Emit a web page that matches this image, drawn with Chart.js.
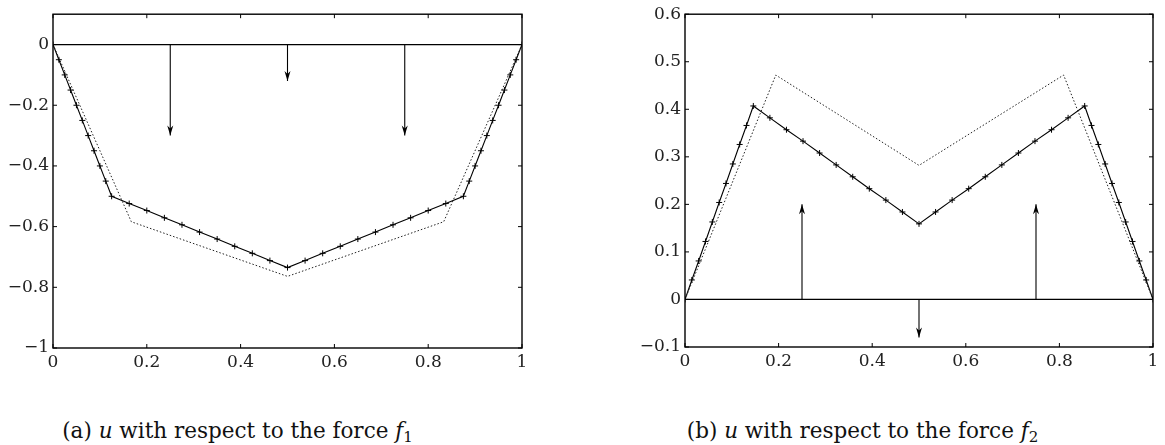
<!DOCTYPE html>
<html>
<head>
<meta charset="utf-8">
<script src="https://cdn.jsdelivr.net/npm/chart.js@4/dist/chart.umd.min.js"></script>
<style>
  body { margin: 0; background: #fff; width: 1165px; height: 445px; position: relative; overflow: hidden; }
  canvas { position: absolute; top: 0; }
  #chartA { left: 0; }
  #chartB { left: 580px; }
  .caption { position: absolute; top: 418px; line-height: 26px; font-family: "DejaVu Serif", serif; font-size: 21.5px; color: #111; text-align: center; white-space: nowrap; }
  .caption sub { font-size: 15px; vertical-align: -4px; line-height: 0; }
</style>
</head>
<body>
<canvas id="chartA" width="580" height="380"></canvas>
<canvas id="chartB" width="585" height="380"></canvas>
<div class="caption" style="left:0;width:475px">(a) <i>u</i> with respect to the force <i>f</i><sub>1</sub></div>
<div class="caption" style="left:580px;width:565px">(b) <i>u</i> with respect to the force <i>f</i><sub>2</sub></div>
<script>
// ---- data: plot (a), force f1 ----
const xTicks = [0, 0.2, 0.4, 0.6, 0.8, 1];
const aYTicks = [-1, -0.8, -0.6, -0.4, -0.2, 0];
const aNodesX = [0, 0.0125, 0.025, 0.0375, 0.05, 0.0625, 0.075, 0.0875, 0.1, 0.1125, 0.125,
  0.1625, 0.2, 0.2375, 0.275, 0.3125, 0.35, 0.3875, 0.425, 0.4625, 0.5,
  0.5375, 0.575, 0.6125, 0.65, 0.6875, 0.725, 0.7625, 0.8, 0.8375, 0.875,
  0.8875, 0.9, 0.9125, 0.925, 0.9375, 0.95, 0.9625, 0.975, 0.9875, 1];
const aSolid = [0, -0.05, -0.10, -0.15, -0.20, -0.25, -0.30, -0.35, -0.40, -0.45, -0.50,
  -0.524, -0.547, -0.571, -0.594, -0.618, -0.641, -0.665, -0.688, -0.712, -0.735,
  -0.712, -0.688, -0.665, -0.641, -0.618, -0.594, -0.571, -0.547, -0.524, -0.50,
  -0.45, -0.40, -0.35, -0.30, -0.25, -0.20, -0.15, -0.10, -0.05, 0];
const aDotX = [0, 0.167, 0.5, 0.833, 1];
const aDotY = [0, -0.584, -0.764, -0.584, 0];
const aArrowX = [0.25, 0.5, 0.75];
const aArrowY = [-0.30, -0.12, -0.30];

// ---- data: plot (b), force f2 ----
const bYTicks = [-0.1, 0, 0.1, 0.2, 0.3, 0.4, 0.5, 0.6];
const bNodesX = [0, 0.0146, 0.0292, 0.0438, 0.0584, 0.073, 0.0876, 0.1022, 0.1168, 0.1314, 0.146,
  0.1814, 0.2168, 0.2522, 0.2876, 0.323, 0.3584, 0.3938, 0.4292, 0.4646, 0.5,
  0.5354, 0.5708, 0.6062, 0.6416, 0.677, 0.7124, 0.7478, 0.7832, 0.8186, 0.854,
  0.8686, 0.8832, 0.8978, 0.9124, 0.927, 0.9416, 0.9562, 0.9708, 0.9854, 1];
const bSolid = [0, 0.041, 0.081, 0.122, 0.163, 0.204, 0.244, 0.285, 0.326, 0.366, 0.407,
  0.382, 0.357, 0.333, 0.308, 0.283, 0.258, 0.233, 0.209, 0.184, 0.159,
  0.184, 0.209, 0.233, 0.258, 0.283, 0.308, 0.333, 0.357, 0.382, 0.407,
  0.366, 0.326, 0.285, 0.244, 0.204, 0.163, 0.122, 0.081, 0.041, 0];
const bDotX = [0, 0.194, 0.5, 0.809, 1];
const bDotY = [0, 0.472, 0.282, 0.472, 0];
const bArrowX = [0.25, 0.5, 0.75];
const bArrowY = [0.2, -0.08, 0.2];

const pts = (xs, ys) => xs.map((x, i) => ({ x: x, y: ys[i] }));
const fmt = (v) => {
  const s = String(Math.round(v * 10) / 10);
  return s.replace("-", "\u2212");
};

// frame, inward ticks and arrow heads
const decorPlugin = {
  id: "decor",
  afterDatasetsDraw(chart) {
    const ctx = chart.ctx;
    const a = chart.chartArea;
    const xs = chart.scales.x, ys = chart.scales.y;
    ctx.save();
    ctx.fillStyle = "#000";
    ctx.strokeStyle = "#000";
    ctx.lineWidth = 1;
    chart.data.datasets.forEach((ds, i) => {
      if (!ds.arrow) return;
      const m = chart.getDatasetMeta(i).data;
      const p0 = m[0], p1 = m[1];
      const dir = p1.y > p0.y ? 1 : -1;
      ctx.beginPath();
      ctx.moveTo(p1.x, p1.y);
      ctx.lineTo(p1.x - 3, p1.y - dir * 10);
      ctx.lineTo(p1.x, p1.y - dir * 7);
      ctx.lineTo(p1.x + 3, p1.y - dir * 10);
      ctx.closePath();
      ctx.fill();
    });
    ctx.lineWidth = 1.4;
    ctx.strokeRect(a.left, a.top, a.right - a.left, a.bottom - a.top);
    ctx.lineWidth = 1;
    ctx.beginPath();
    xs.ticks.forEach((t) => {
      const px = xs.getPixelForValue(t.value);
      ctx.moveTo(px, a.bottom); ctx.lineTo(px, a.bottom - 4);
      ctx.moveTo(px, a.top); ctx.lineTo(px, a.top + 4);
    });
    ys.ticks.forEach((t) => {
      const py = ys.getPixelForValue(t.value);
      ctx.moveTo(a.left, py); ctx.lineTo(a.left + 4, py);
      ctx.moveTo(a.right, py); ctx.lineTo(a.right - 4, py);
    });
    ctx.stroke();
    ctx.restore();
  },
};

function makeChart(el, cfg) {
  const datasets = [
    { data: [{ x: 0, y: 0 }, { x: 1, y: 0 }], borderColor: "#000", borderWidth: 1.2, pointRadius: 0, showLine: true },
    { data: pts(cfg.dotX, cfg.dotY), borderColor: "#222", borderWidth: 1, borderDash: [1.5, 2], pointRadius: 0, showLine: true },
    { data: pts(cfg.nodesX, cfg.solid), borderColor: "#000", borderWidth: 1.1, showLine: true,
      pointStyle: "cross", pointRadius: 3, pointBorderWidth: 1, pointBorderColor: "#000" },
  ];
  cfg.arrowX.forEach((x, i) => {
    datasets.push({ data: [{ x: x, y: 0 }, { x: x, y: cfg.arrowY[i] }], arrow: true,
      borderColor: "#000", borderWidth: 1.1, pointRadius: 0, showLine: true });
  });
  const tickFont = { family: "DejaVu Serif", size: 17 };
  return new Chart(el, {
    type: "scatter",
    data: { datasets: datasets },
    plugins: [decorPlugin],
    options: {
      responsive: false,
      animation: false,
      devicePixelRatio: 1,
      layout: { padding: { left: 0, bottom: 0, top: cfg.top, right: cfg.right } },
      plugins: { legend: { display: false }, tooltip: { enabled: false } },
      scales: {
        x: {
          type: "linear", min: 0, max: 1,
          grid: { display: false, drawTicks: false }, border: { display: false },
          afterBuildTicks: (s) => { s.ticks = xTicks.map((v) => ({ value: v })); },
          afterFit: (s) => { s.height = cfg.xHeight; },
          ticks: { font: tickFont, color: "#222", padding: 4, maxRotation: 0, callback: fmt },
        },
        y: {
          type: "linear", min: cfg.yMin, max: cfg.yMax,
          grid: { display: false, drawTicks: false }, border: { display: false },
          afterBuildTicks: (s) => { s.ticks = cfg.yTicks.map((v) => ({ value: v })); },
          afterFit: (s) => { s.width = cfg.yWidth; },
          ticks: { font: tickFont, color: "#222", padding: 4, callback: fmt },
        },
      },
    },
  });
}

makeChart(document.getElementById("chartA"), {
  nodesX: aNodesX, solid: aSolid, dotX: aDotX, dotY: aDotY, arrowX: aArrowX, arrowY: aArrowY,
  yTicks: aYTicks, yMin: -1, yMax: 0.1, top: 12, right: 58, xHeight: 32, yWidth: 53,
});
makeChart(document.getElementById("chartB"), {
  nodesX: bNodesX, solid: bSolid, dotX: bDotX, dotY: bDotY, arrowX: bArrowX, arrowY: bArrowY,
  yTicks: bYTicks, yMin: -0.1, yMax: 0.6, top: 11, right: 12, xHeight: 33, yWidth: 105,
});
</script>
</body>
</html>
